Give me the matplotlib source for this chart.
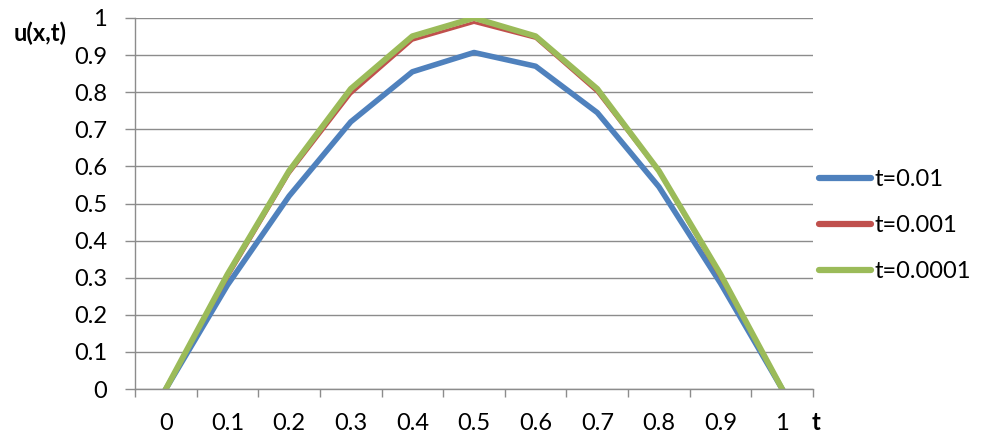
import matplotlib.pyplot as plt
import numpy as np

plt.rcParams['font.family'] = ['Lato', 'DejaVu Sans']

x_labels = ['0', '0.1', '0.2', '0.3', '0.4', '0.5', '0.6', '0.7', '0.8', '0.9', '1']
u_t01 = [0, 0.28, 0.52, 0.72, 0.855, 0.907, 0.87, 0.745, 0.545, 0.285, 0]
u_t001 = [0, 0.30, 0.58, 0.795, 0.94, 0.988, 0.945, 0.80, 0.585, 0.30, 0]
u_t0001 = [0, 0.309, 0.588, 0.809, 0.951, 1.0, 0.951, 0.809, 0.588, 0.309, 0]
series_names = ['t=0.01', 't=0.001', 't=0.0001']
colors = ['#4F81BD', '#C0504D', '#9BBB59']
widths = [4, 2.2, 4.2]

fs = 17

fig = plt.figure(figsize=(9.81, 4.37), dpi=100)
ax = fig.add_axes([135 / 981, 1 - 389 / 437, (813 - 135) / 981, (389 - 18) / 437])

pos = np.arange(len(x_labels))
for vals, name, c, w in zip([u_t01, u_t001, u_t0001], series_names, colors, widths):
    ax.plot(pos, vals, color=c, linewidth=w, label=name, solid_joinstyle='round')

ax.set_xlim(-0.5, len(x_labels) - 0.5)
ax.set_ylim(0, 1)
ax.set_yticks(np.arange(0, 1.01, 0.1))
ax.set_yticklabels(['0', '0.1', '0.2', '0.3', '0.4', '0.5', '0.6', '0.7', '0.8', '0.9', '1'])
ax.yaxis.grid(True, color='#8c8c8c', linewidth=1)
ax.set_axisbelow(True)

# major ticks between categories, labels on minor ticks
ax.set_xticks(np.arange(-0.5, len(x_labels), 1.0))
ax.set_xticklabels([])
ax.set_xticks(pos, minor=True)
ax.set_xticklabels(x_labels, minor=True)
ax.tick_params(axis='x', which='major', length=6, color='#8c8c8c', width=1)
ax.tick_params(axis='x', which='minor', length=0, pad=17, labelsize=fs)
ax.tick_params(axis='y', length=7, color='#8c8c8c', width=1, pad=13, labelsize=fs)

for side in ['top', 'right']:
    ax.spines[side].set_visible(False)
for side in ['left', 'bottom']:
    ax.spines[side].set_color('#8c8c8c')
    ax.spines[side].set_linewidth(1)

fig.text(40 / 981, 1 - 33 / 437, 'u(x,t)', fontsize=fs, fontweight='bold',
         ha='center', va='center')
fig.text(816 / 981, 1 - 423 / 437, 't', fontsize=fs, fontweight='bold',
         ha='center', va='center')

leg = ax.legend(loc='center left', bbox_to_anchor=(1.009, 0.44), frameon=False,
                fontsize=fs, handlelength=2.2, handletextpad=0.15, labelspacing=1.05,
                borderaxespad=0.0, borderpad=0.0)
for line in leg.get_lines():
    line.set_linewidth(4.5)
    line.set_solid_capstyle('round')

fig.savefig('out.png', dpi=100)
